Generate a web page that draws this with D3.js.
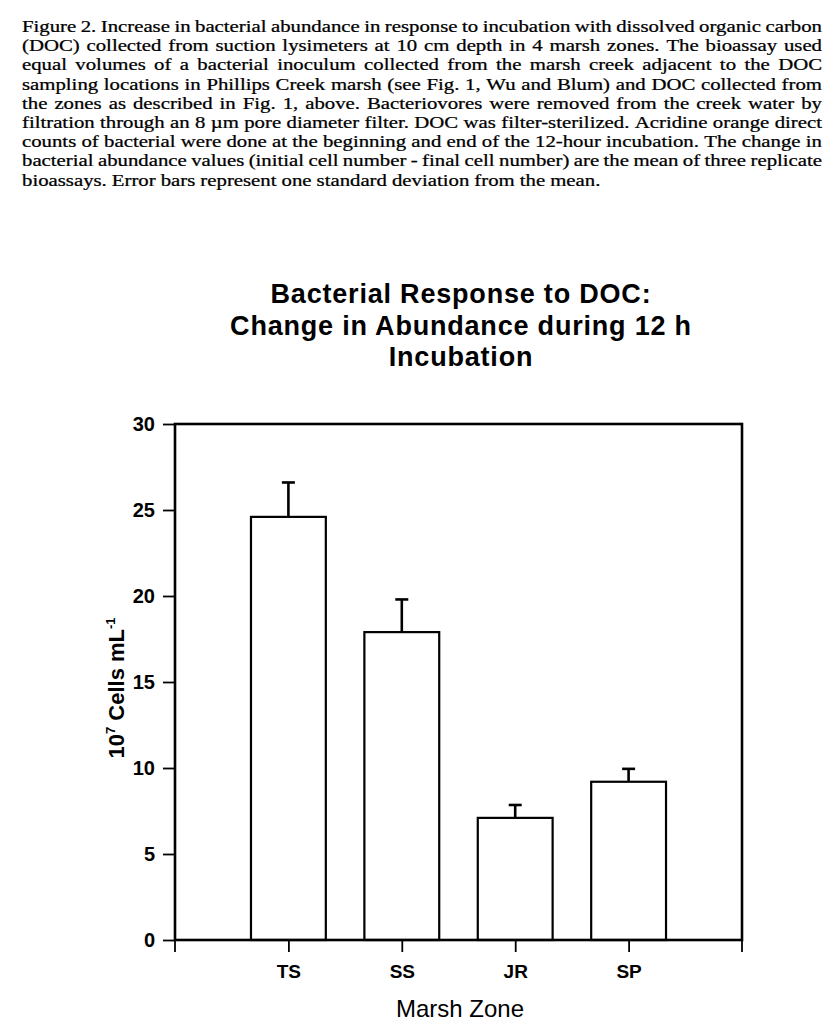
<!DOCTYPE html>
<html>
<head>
<meta charset="utf-8">
<script src="https://cdn.jsdelivr.net/npm/d3@7"></script>
<style>
  body { margin: 0; background: #fff; }
  svg { display: block; }
</style>
</head>
<body>
<div id="chart"></div>
<script>
var WIDTH = 832, HEIGHT = 1034;

// data
var zones = ['TS', 'SS', 'JR', 'SP'];
var meanChange = [24.6, 17.9, 7.1, 9.2];
var stdDev = [2.0, 1.9, 0.75, 0.75];
var yTicks = [0, 5, 10, 15, 20, 25, 30];

var captionLines = [
    'Figure 2. Increase in bacterial abundance in response to incubation with dissolved organic carbon',
    '(DOC) collected from suction lysimeters at 10 cm depth in 4 marsh zones. The bioassay used',
    'equal volumes of a bacterial inoculum collected from the marsh creek adjacent to the DOC',
    'sampling locations in Phillips Creek marsh (see Fig. 1, Wu and Blum) and DOC collected from',
    'the zones as described in Fig. 1, above.   Bacteriovores were removed from the creek water by',
    'filtration through an 8 \u00b5m pore diameter filter. DOC was filter-sterilized. Acridine orange direct',
    'counts of bacterial were done at the beginning and end of the 12-hour incubation. The change in',
    'bacterial abundance values (initial cell number - final cell number) are the mean of three replicate',
    'bioassays. Error bars represent one standard deviation from the mean.'
];
var titleLines = ['Bacterial Response to DOC:', 'Change in Abundance during 12 h', 'Incubation'];

var svg = d3.select('#chart')
    .append('svg')
    .attr('width', WIDTH)
    .attr('height', HEIGHT);

// caption, justified like the printed page; the scan is a bit wide so stretch x
var capLeft = 22, capWidth = 800, stretch = 1.26;
var caption = svg.append('g').attr('class', 'caption')
    .attr('transform', 'translate(' + capLeft + ',0) scale(' + stretch + ',1)')
    .style('font-family', '"Liberation Serif", "Times New Roman", serif')
    .style('font-size', '16.5px')
    .attr('fill', '#000')
    .attr('stroke', '#000')
    .attr('stroke-width', 0.25);

captionLines.forEach(function(line, i) {
    var y = 32 + i * 19.2;
    var words = line.split(/ +/);
    var last = i === captionLines.length - 1;
    var t = caption.append('text').attr('y', y);
    var widths = words.map(function(w) {
        var tmp = caption.append('text').text(w);
        var len = tmp.node().getComputedTextLength();
        tmp.remove();
        return len;
    });
    var total = d3.sum(widths);
    var gap = last ? 4 : (capWidth / stretch - total) / (words.length - 1);
    var x = 0;
    words.forEach(function(w, j) {
        t.append('tspan').attr('x', x).text(w);
        x += widths[j] + gap;
    });
});

// chart
var margin = {left: 175, right: 90, top: 424, bottom: 94};
var plotW = WIDTH - margin.left - margin.right;
var plotH = HEIGHT - margin.top - margin.bottom;

var x = d3.scalePoint().domain(zones).range([0, plotW]).padding(1);
var y = d3.scaleLinear().domain([0, 30]).range([plotH, 0]);
var barW = x.step() * 0.66;

var g = svg.append('g').attr('transform', 'translate(' + margin.left + ',' + margin.top + ')');

// title
svg.append('g').selectAll('text')
    .data(titleLines)
    .enter()
    .append('text')
    .attr('x', 461)
    .attr('y', function(d, i) { return 303 + i * 31.5; })
    .attr('text-anchor', 'middle')
    .style('font-family', '"Liberation Sans", Arial, sans-serif')
    .style('font-weight', 'bold')
    .style('font-size', '27px')
    .style('letter-spacing', '0.8px')
    .text(function(d) { return d; });

var bars = zones.map(function(z, i) {
    return {zone: z, value: meanChange[i], sd: stdDev[i]};
});

// error bars (upper side only)
var err = g.append('g').attr('class', 'errors')
    .attr('stroke', '#000')
    .attr('stroke-width', 2.6);
err.selectAll('line.stem')
    .data(bars)
    .enter()
    .append('line')
    .attr('class', 'stem')
    .attr('x1', function(d) { return x(d.zone); })
    .attr('x2', function(d) { return x(d.zone); })
    .attr('y1', function(d) { return y(d.value); })
    .attr('y2', function(d) { return y(d.value + d.sd); });
err.selectAll('line.cap')
    .data(bars)
    .enter()
    .append('line')
    .attr('class', 'cap')
    .attr('x1', function(d) { return x(d.zone) - 6.5; })
    .attr('x2', function(d) { return x(d.zone) + 6.5; })
    .attr('y1', function(d) { return y(d.value + d.sd); })
    .attr('y2', function(d) { return y(d.value + d.sd); });

// bars
g.append('g').selectAll('rect')
    .data(bars)
    .enter()
    .append('rect')
    .attr('x', function(d) { return x(d.zone) - barW / 2; })
    .attr('y', function(d) { return y(d.value); })
    .attr('width', barW)
    .attr('height', function(d) { return plotH - y(d.value); })
    .attr('fill', '#fff')
    .attr('stroke', '#000')
    .attr('stroke-width', 2.2);

// frame
g.append('rect')
    .attr('x', 0).attr('y', 0)
    .attr('width', plotW).attr('height', plotH)
    .attr('fill', 'none')
    .attr('stroke', '#000')
    .attr('stroke-width', 2.6);

// y axis
var yAxis = g.append('g')
    .call(d3.axisLeft(y).tickValues(yTicks).tickSize(12).tickPadding(8));
yAxis.select('.domain').remove();
yAxis.selectAll('line').attr('stroke-width', 1.8);
yAxis.selectAll('text')
    .style('font-family', '"Liberation Sans", Arial, sans-serif')
    .style('font-weight', 'bold')
    .style('font-size', '20px')
    .attr('fill', '#000');

// x axis: ticks at each zone plus the frame ends
var xAxis = g.append('g')
    .attr('transform', 'translate(0,' + plotH + ')')
    .call(d3.axisBottom(x).tickSize(12).tickPadding(13));
xAxis.select('.domain').remove();
xAxis.selectAll('line').attr('stroke-width', 1.8);
xAxis.selectAll('text')
    .style('font-family', '"Liberation Sans", Arial, sans-serif')
    .style('font-weight', 'bold')
    .style('font-size', '19px')
    .attr('fill', '#000');
xAxis.selectAll('line.endtick')
    .data(x.range())
    .enter()
    .append('line')
    .attr('class', 'endtick')
    .attr('x1', function(d) { return d; })
    .attr('x2', function(d) { return d; })
    .attr('y1', 0)
    .attr('y2', 12)
    .attr('stroke', '#000')
    .attr('stroke-width', 1.8);

// axis titles
svg.append('text')
    .attr('x', 460)
    .attr('y', 1017)
    .attr('text-anchor', 'middle')
    .style('font-family', '"Liberation Sans", Arial, sans-serif')
    .style('font-size', '24px')
    .text('Marsh Zone');

var yLabel = svg.append('text')
    .attr('transform', 'translate(124,688) rotate(-90)')
    .attr('text-anchor', 'middle')
    .style('font-family', '"Liberation Sans", Arial, sans-serif')
    .style('font-weight', 'bold')
    .style('font-size', '22px');
yLabel.append('tspan').text('10');
yLabel.append('tspan').attr('dy', -9).style('font-size', '13px').text('7');
yLabel.append('tspan').attr('dy', 9).text(' Cells mL');
yLabel.append('tspan').attr('dy', -9).style('font-size', '13px').text('-1');
</script>
</body>
</html>
